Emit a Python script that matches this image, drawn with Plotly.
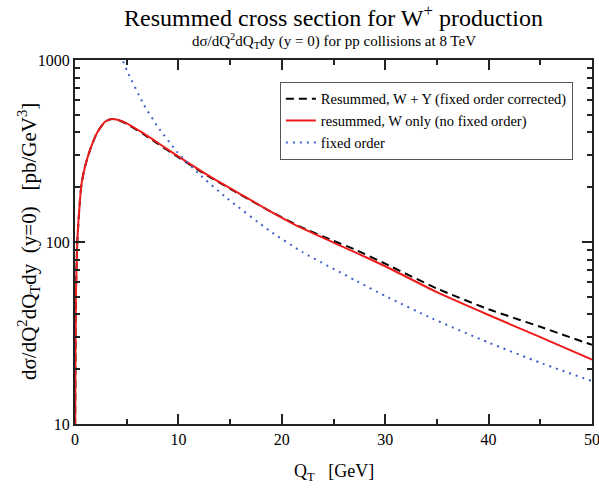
import plotly.graph_objects as go

# QT grid for resummed curves [GeV]
qt_res = [0.0, 0.03, 0.08, 0.22, 0.48, 0.64, 0.96, 1.45, 2.1, 2.9, 3.55, 4.2, 5.0, 6.6, 8.0, 9.8,
          13.0, 16.3, 18.84, 21.7, 25.0, 27.05, 30.0, 35.0, 40.0, 45.0, 50.0]
# Resummed, W + Y (fixed order corrected)
w_plus_y = [5, 14, 48, 100, 170, 210, 259, 320, 395, 458, 474, 467, 446, 392, 347, 297,
            228, 178, 148, 122, 101.5, 91, 76, 55.5, 42.7, 34.2, 27.2]
# resummed, W only (no fixed order)
w_only = [5, 14, 48, 100, 170, 210, 259, 320, 395, 458, 474, 468, 449, 396, 351, 300,
          230, 179, 148, 121, 99.3, 88, 73.6, 53, 39.7, 30, 22.6]
# fixed order
qt_fo = [4.2, 4.6, 5.0, 6.67, 8.0, 9.87, 12.0, 14.7, 18.84, 22.0, 27.05, 30.0, 34.5, 40.0, 45.0, 50.0]
fixed_order = [1160, 1000, 880, 566, 430, 313, 236, 174, 115, 88, 61.8, 50.5, 38.1, 28, 21.7, 17.2]

x_ticks = [0, 10, 20, 30, 40, 50]
x_minor = [5, 15, 25, 35, 45]
y_ticks = [10, 100, 1000]
y_ticktext = ["10", "100", "1000"]

names = ["Resummed, W + Y (fixed order corrected)",
         "resummed, W only (no fixed order)",
         "fixed order"]

FONT = "Liberation Serif"

fig = go.Figure()
fig.add_trace(go.Scatter(x=qt_res, y=w_plus_y, mode="lines", name=names[0],
                         line=dict(color="black", width=2, dash="8px,5px", shape="spline", smoothing=0.5)))
fig.add_trace(go.Scatter(x=qt_res, y=w_only, mode="lines", name=names[1],
                         line=dict(color="#ee1c1c", width=2, shape="spline", smoothing=0.5)))
fig.add_trace(go.Scatter(x=qt_fo, y=fixed_order, mode="lines", name=names[2],
                         line=dict(color="#4460c8", width=2, dash="2px,5px", shape="spline", smoothing=0.5)))

minor_y = [v * m for m in (10, 100) for v in range(2, 10)]

axis_common = dict(ticks="inside", ticklen=10, tickwidth=1.5, tickcolor="#222", showgrid=False,
                   zeroline=False, showline=True, linecolor="#222", linewidth=2, mirror="ticks",
                   automargin=False, ticklabeloverflow="allow",
                   tickfont=dict(family=FONT, size=16))

fig.update_layout(
    width=599, height=489,
    margin=dict(l=75, r=7, t=60, b=65, autoexpand=False),
    paper_bgcolor="white", plot_bgcolor="white",
    font=dict(family=FONT, color="black", size=16),
    showlegend=True,
    legend=dict(x=0.963, y=0.94, xanchor="right", yanchor="top",
                bgcolor="white", bordercolor="#555", borderwidth=1,
                font=dict(family=FONT, size=14.5), itemwidth=30,
                tracegroupgap=0),
    annotations=[
        dict(text="Resummed cross section for W<sup>+</sup> production", xref="paper", yref="paper",
             x=0.5, y=1, yshift=44, xanchor="center", yanchor="middle", showarrow=False,
             font=dict(family=FONT, size=24)),
        dict(text="dσ/dQ<sup>2</sup>dQ<sub>T</sub>dy (y = 0) for pp collisions at 8 TeV", xref="paper", yref="paper",
             x=0.5, y=1, yshift=19, xanchor="center", yanchor="middle", showarrow=False,
             font=dict(family=FONT, size=15)),
        dict(text="Q<sub>T</sub>   [GeV]", xref="paper", yref="paper",
             x=0.5, y=0, yshift=-48, xanchor="center", yanchor="middle", showarrow=False,
             font=dict(family=FONT, size=18)),
        dict(text="dσ/dQ<sup>2</sup>dQ<sub>T</sub>dy  (y=0)   [pb/GeV<sup>3</sup>]", xref="paper", yref="paper",
             x=0, y=0.5, xshift=-47, xanchor="center", yanchor="middle", showarrow=False, textangle=-90,
             font=dict(family=FONT, size=21)),
    ],
    xaxis=dict(range=[0, 50], tickvals=x_ticks,
               minor=dict(tickvals=x_minor, ticks="inside", ticklen=5, tickcolor="#222", tickwidth=1.5),
               **axis_common),
    yaxis=dict(type="log", range=[1, 3], tickvals=y_ticks, ticktext=y_ticktext,
               minor=dict(tickvals=minor_y, ticks="inside", ticklen=5, tickcolor="#222", tickwidth=1.5),
               **axis_common),
)

fig.write_html("out.html")
